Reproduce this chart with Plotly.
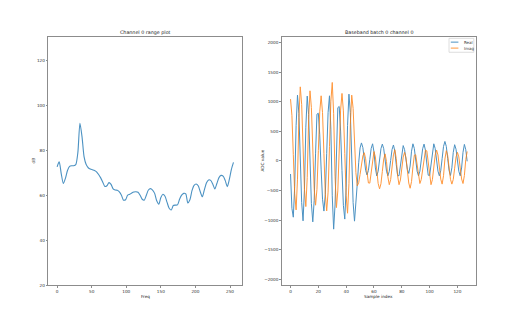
import plotly.graph_objects as go

# ---- range profile (channel 0) ----
freq_bins = list(range(0, 256, 3))
range_db = [
    72.6, 74.8, 69.5, 65.2, 67.5, 71.0, 72.8, 73.1, 73.1, 73.6,
    79.0, 92.0, 86.0, 77.0, 73.6, 72.2, 71.6, 71.3, 71.0, 70.4,
    69.2, 67.7, 65.8, 63.9, 64.2, 65.6, 64.8, 62.8, 62.3, 62.2,
    61.5, 60.0, 57.8, 58.0, 60.0, 60.4, 61.0, 61.4, 61.5, 61.3,
    60.0, 58.2, 57.8, 60.0, 62.3, 62.9, 62.3, 60.8, 57.5, 56.0,
    59.0, 60.4, 59.5, 56.8, 54.2, 53.4, 55.4, 55.6, 55.7, 58.2,
    60.0, 60.8, 60.6, 56.6, 58.0, 62.0, 64.4, 65.0, 64.2, 61.5,
    59.3, 62.5, 65.5, 66.8, 66.6, 65.0, 62.8, 65.2, 67.8, 68.8,
    68.5, 66.6, 63.8, 67.0, 71.5, 74.6,
]

# ---- baseband samples (batch 0, channel 0) ----
sample_index = list(range(128))
real_part = [
    -220, -800, -948, -433, 596, 1111, 801, 50, -700, -1010,
    -484, 569, 1095, 785, 34, -717, -1027, -667, 132, 790,
    805, 441, -137, -645, -845, -561, 127, 816, 1100, 538,
    -588, -1150, -742, 164, 900, 920, 505, -162, -748, -980,
    -453, 601, 1128, 815, 57, -702, -1015, -760, -380, -30,
    220, 305, 226, 34, -157, -236, -159, 27, 213, 290,
    155, -117, -252, -174, 16, 207, 285, 207, 17, -172,
    -250, -174, 10, 194, 270, 167, -60, -245, -250, -64,
    157, 260, 191, 25, -141, -210, -85, 165, 290, 211,
    20, -171, -250, -172, 17, 207, 285, 181, -51, -240,
    -245, -50, 182, 290, 211, 20, -171, -250, -165, 40,
    245, 330, 246, 43, -161, -245, -115, 145, 275, 198,
    13, -173, -250, -118, 147, 280, 190, -5,
]
imag_part = [
    1044, 771, 110, -552, -825, -306, 732, 1251, 956, 241,
    -474, -769, -281, 696, 1184, 902, 219, -464, -746, -476,
    177, 830, 1100, 816, 129, -558, -842, -526, 242, 1009,
    1325, 797, -258, -786, -505, 177, 859, 1140, 845, 129,
    -586, -881, -383, 613, 1111, 887, 345, -196, -420, -367,
    -227, -53, 87, 140, 37, -190, -371, -373, -183, 51,
    160, 68, -155, -378, -470, -384, -175, 34, 120, -10,
    -270, -400, -314, -105, 104, 190, 43, -252, -400, -320,
    -127, 66, 146, 58, -157, -372, -460, -348, -99, 98,
    105, -68, -281, -380, -312, -140, 55, 183, 171, -33,
    -284, -400, -315, -108, 100, 185, 101, -102, -306, -390,
    -249, 33, 174, 92, -108, -308, -390, -312, -122, 68,
    146, 69, -117, -303, -380, -245, 25, 160,
]

range_ticks = [0, 50, 100, 150, 200, 250]
db_ticks = [20, 40, 60, 80, 100, 120]
sample_ticks = [0, 20, 40, 60, 80, 100, 120]
adc_ticks = [-2000, -1500, -1000, -500, 0, 500, 1000, 1500, 2000]

W, H = 530, 322
BLUE = "#1f77b4"
ORANGE = "#ff7f0e"
FONT = "DejaVu Sans"


def fx(p):
    return p / W


def fy(p):
    return 1 - p / H


fig = go.Figure()
fig.add_trace(go.Scatter(
    x=freq_bins, y=range_db, mode="lines",
    line=dict(color=BLUE, width=1.1, shape="spline", smoothing=0.7),
    xaxis="x", yaxis="y", showlegend=False, opacity=0.8,
))
fig.add_trace(go.Scatter(
    x=sample_index, y=real_part, mode="lines", name="Real",
    line=dict(color=BLUE, width=1.0),
    xaxis="x2", yaxis="y2", showlegend=False, opacity=0.8,
))
fig.add_trace(go.Scatter(
    x=sample_index, y=imag_part, mode="lines", name="Imag",
    line=dict(color=ORANGE, width=1.0),
    xaxis="x2", yaxis="y2", showlegend=False, opacity=0.8,
))

axis_common = dict(
    showline=True, mirror=True, linecolor="#8c8c8c", linewidth=1,
    ticks="outside", ticklen=1.5, tickwidth=0.8, tickcolor="#8c8c8c",
    showgrid=False, zeroline=False,
    tickfont=dict(family=FONT, size=4.2, color="#333"),
)

# panel frames in pixels
L = (48.3, 242.3)
R = (281.7, 476.0)
TOP, BOT = 37.0, 287.0

fig.update_layout(
    width=W, height=H,
    margin=dict(l=0, r=0, t=0, b=0),
    paper_bgcolor="white", plot_bgcolor="white",
    xaxis=dict(domain=[fx(L[0]), fx(L[1])], range=[-12.75, 267.75],
               tickvals=range_ticks, anchor="y", **axis_common),
    yaxis=dict(domain=[fy(BOT), fy(TOP)], range=[20, 130.4],
               tickvals=db_ticks, anchor="x", **axis_common),
    xaxis2=dict(domain=[fx(R[0]), fx(R[1])], range=[-6.35, 133.35],
                tickvals=sample_ticks, anchor="y2", **axis_common),
    yaxis2=dict(domain=[fy(BOT), fy(TOP)], range=[-2096, 2096],
                tickvals=adc_ticks, anchor="x2", **axis_common),
    showlegend=False,
)

labels = [
    ("Channel 0 range plot", (L[0] + L[1]) / 2, 32.5, 0, 4.8),
    ("Baseband batch 0 channel 0", (R[0] + R[1]) / 2, 32.5, 0, 4.8),
    ("Freq", (L[0] + L[1]) / 2, 298.6, 0, 4.2),
    ("Sample index", (R[0] + R[1]) / 2, 298.6, 0, 4.2),
    ("dB", 33.5, (TOP + BOT) / 2, -90, 4.2),
    ("ADC value", 262.5, (TOP + BOT) / 2, -90, 4.2),
]
for text, x, y, ang, size in labels:
    fig.add_annotation(
        text=text, x=fx(x), y=fy(y), xref="paper", yref="paper",
        showarrow=False, textangle=ang, xanchor="center", yanchor="middle",
        font=dict(family=FONT, size=size, color="#222"),
    )

# legend box (upper right of the baseband panel)
fig.add_shape(type="rect", xref="paper", yref="paper",
              x0=fx(449.0), x1=fx(473.8), y0=fy(52.6), y1=fy(38.6),
              line=dict(color="#d6d6d6", width=0.8), fillcolor="white")
for name, color, yy in [("Real", BLUE, 42.4), ("Imag", ORANGE, 48.4)]:
    fig.add_shape(type="line", xref="paper", yref="paper",
                  x0=fx(450.8), x1=fx(458.4), y0=fy(yy), y1=fy(yy),
                  line=dict(color=color, width=1.0), opacity=0.8)
    fig.add_annotation(text=name, x=fx(461.5), y=fy(yy), xref="paper", yref="paper",
                       showarrow=False, xanchor="left", yanchor="middle",
                       font=dict(family=FONT, size=4.0, color="#333"))

fig.write_html("out.html")
